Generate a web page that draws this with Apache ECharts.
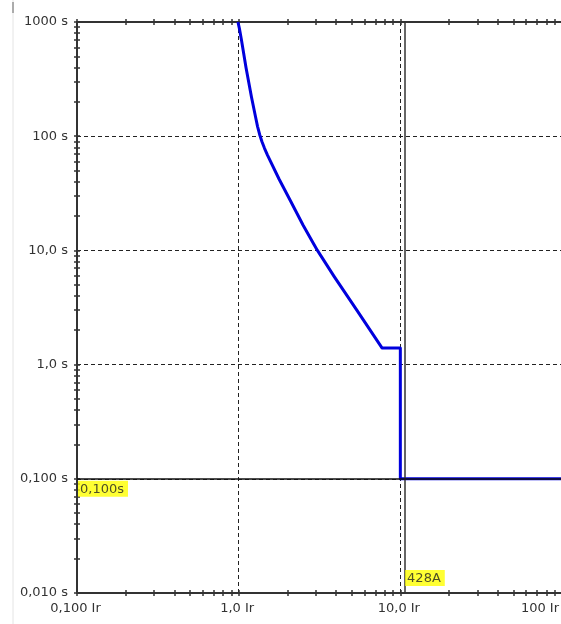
<!DOCTYPE html>
<html><head><meta charset="utf-8">
<script src="https://cdn.jsdelivr.net/npm/echarts@6/dist/echarts.min.js"></script>
<style>html,body{margin:0;padding:0;background:#fff}#c{width:561px;height:624px}</style>
</head><body><div id="c"></div>
<script>
// ---- data ----
const curveIr = [0.99, 1.01, 1.04, 1.11, 1.2, 1.274, 1.308, 1.348, 1.394, 1.445, 1.51, 1.78, 2.09, 2.5, 2.78, 3.07, 3.9, 5.38, 7.7, 10.0, 10.0, 100];
const curveT  = [1000, 880, 700, 400, 220, 146, 122, 103.5, 89.3, 78.3, 68, 42, 27.2, 16.7, 12.8, 10, 5.9, 3.0, 1.4, 1.4, 0.1, 0.1];
const xTickValues = [0.1, 1, 10, 100];
const xTickLabels = ['0,100 Ir', '1,0 Ir', '10,0 Ir', '100 Ir'];
const yTickValues = [0.01, 0.1, 1, 10, 100, 1000];
const yTickLabels = ['0,010 s', '0,100 s', '1,0 s', '10,0 s', '100 s', '1000 s'];
const minorSteps = [1, 2, 3, 4, 5, 6, 7, 8, 9];
const pickupIr = 10.7;
const pickupLabel = '428A';
const instT = 0.1;
const instLabel = '0,100s';

// ---- build ----
function minorList(decades, last) {
  const out = [];
  decades.forEach(d => minorSteps.forEach(k => out.push(+(d * k).toPrecision(6))));
  out.push(last);
  return out;
}
const xMinor = minorList(xTickValues.slice(0, -1), xTickValues[xTickValues.length - 1]);
const yMinor = minorList(yTickValues.slice(0, -1), yTickValues[yTickValues.length - 1]);
function lookup(vals, labels) {
  return v => {
    for (let i = 0; i < vals.length; i++) if (Math.abs(Math.log10(v) - Math.log10(vals[i])) < 1e-6) return labels[i];
    return '';
  };
}
const FONT = 'DejaVu Sans';
const AX = '#333';
const xr = {type: 'log', logBase: 10, min: 0.1, max: 100, gridIndex: 0};
const yr = {type: 'log', logBase: 10, min: 0.01, max: 1000, gridIndex: 0};
function tickAxis(base, pos, inside, line, vals) {
  return Object.assign({}, base, {
    position: pos,
    axisLine: {show: line, onZero: false, lineStyle: {color: AX, width: 2}},
    axisTick: {show: true, inside: inside, length: 3, customValues: vals, lineStyle: {color: AX, width: 1.5}},
    axisLabel: {show: false},
    splitLine: {show: false}
  });
}
const gridLine = {show: true, lineStyle: {color: '#222', width: 1, type: [4, 3]}};
const lblStyle = {fontFamily: FONT, fontSize: 13, color: '#333'};

const option = {
  animation: false,
  backgroundColor: '#fff',
  grid: {left: 77, right: -1, top: 22, bottom: 31, outerBoundsMode: 'none', containLabel: false},
  xAxis: [
    Object.assign({}, xr, {
      position: 'bottom',
      axisLine: {show: true, onZero: false, lineStyle: {color: AX, width: 2}},
      axisTick: {show: false},
      axisLabel: Object.assign({show: true, margin: 9, padding: [0, 3, 0, 0], customValues: xTickValues, formatter: lookup(xTickValues, xTickLabels), alignMaxLabel: 'right'}, lblStyle),
      splitLine: gridLine
    }),
    tickAxis(xr, 'bottom', false, false, xMinor),
    tickAxis(xr, 'bottom', true, false, xMinor),
    tickAxis(xr, 'top', false, true, xMinor),
    tickAxis(xr, 'top', true, false, xMinor)
  ],
  yAxis: [
    Object.assign({}, yr, {
      position: 'left',
      axisLine: {show: true, onZero: false, lineStyle: {color: AX, width: 2}},
      axisTick: {show: false},
      axisLabel: Object.assign({show: true, margin: 9, customValues: yTickValues, formatter: lookup(yTickValues, yTickLabels)}, lblStyle),
      splitLine: gridLine
    }),
    tickAxis(yr, 'left', false, false, yMinor),
    tickAxis(yr, 'left', true, false, yMinor)
  ],
  graphic: [
    {type: 'line', shape: {x1: 13, y1: 0, x2: 13, y2: 624}, style: {stroke: '#e4e4e4', lineWidth: 1}, silent: true},
    {type: 'line', shape: {x1: 13, y1: 2, x2: 13, y2: 13}, style: {stroke: '#666', lineWidth: 1}, silent: true}
  ],
  series: [
    {
      type: 'line', name: 'refs', data: [], z: 1, silent: true,
      markLine: {
        silent: true, symbol: 'none', label: {show: false}, animation: false,
        data: [
          {xAxis: pickupIr, lineStyle: {color: '#333', width: 1.5, type: 'solid'}},
          {yAxis: instT, lineStyle: {color: '#111', width: 1.5, type: 'solid'}}
        ]
      }
    },
    {
      type: 'line', name: 'curve', z: 3, symbol: 'none', showSymbol: false,
      data: curveIr.map((x, i) => [x, curveT[i]]),
      lineStyle: {color: '#0000dd', width: 3, join: 'round'},
      clip: true
    },
    {
      type: 'scatter', name: 'tags', z: 5, symbolSize: 0, clip: false, silent: true,
      label: {show: true, fontFamily: FONT, fontSize: 13, color: '#222', backgroundColor: '#ffff00', padding: [1, 4, 0, 2], lineHeight: 15},
      data: [
        {value: [pickupIr, 0.01], label: {formatter: pickupLabel, position: [0, -7], align: 'left', verticalAlign: 'bottom'}},
        {value: [0.1, instT], label: {formatter: instLabel, position: [1, 2], align: 'left', verticalAlign: 'top'}}
      ]
    }
  ]
};
const chart = echarts.init(document.getElementById('c'), null, {renderer: 'canvas'});
chart.setOption(option);
</script>
</body></html>
